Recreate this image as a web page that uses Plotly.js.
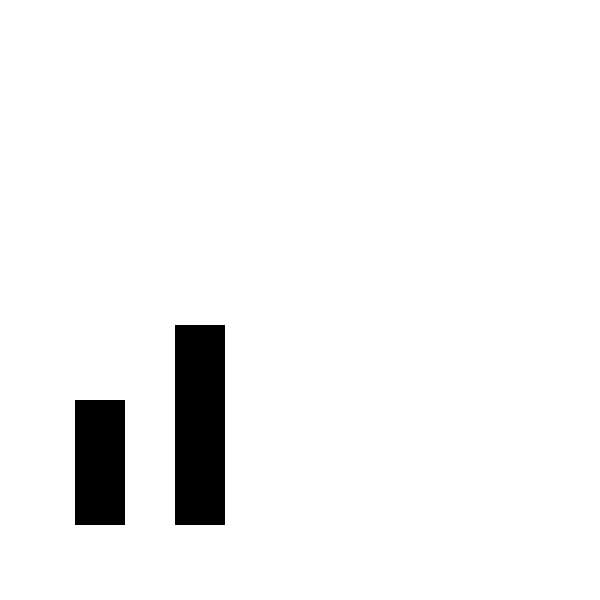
<!DOCTYPE html>
<html>
<head>
<meta charset="utf-8">
<script src="https://cdn.plot.ly/plotly-3.0.1.min.js"></script>
<style>html,body{margin:0;padding:0;background:#fff;}#chart{width:600px;height:600px;}</style>
</head>
<body>
<div id="chart"></div>
<script>
const categories = ["A", "B"];
const values = [5, 8];

Plotly.newPlot("chart", [{
  type: "bar",
  x: categories,
  y: values,
  marker: {color: "#000000", line: {width: 0}},
  hoverinfo: "none"
}], {
  width: 600,
  height: 600,
  margin: {l: 0, r: 0, t: 0, b: 0, pad: 0},
  paper_bgcolor: "#ffffff",
  plot_bgcolor: "#ffffff",
  bargap: 0.5,
  showlegend: false,
  xaxis: {type: "category", range: [-1, 5], visible: false, showgrid: false, zeroline: false, fixedrange: true},
  yaxis: {range: [-3, 21], visible: false, showgrid: false, zeroline: false, fixedrange: true}
}, {staticPlot: true, displayModeBar: false});
</script>
</body>
</html>
